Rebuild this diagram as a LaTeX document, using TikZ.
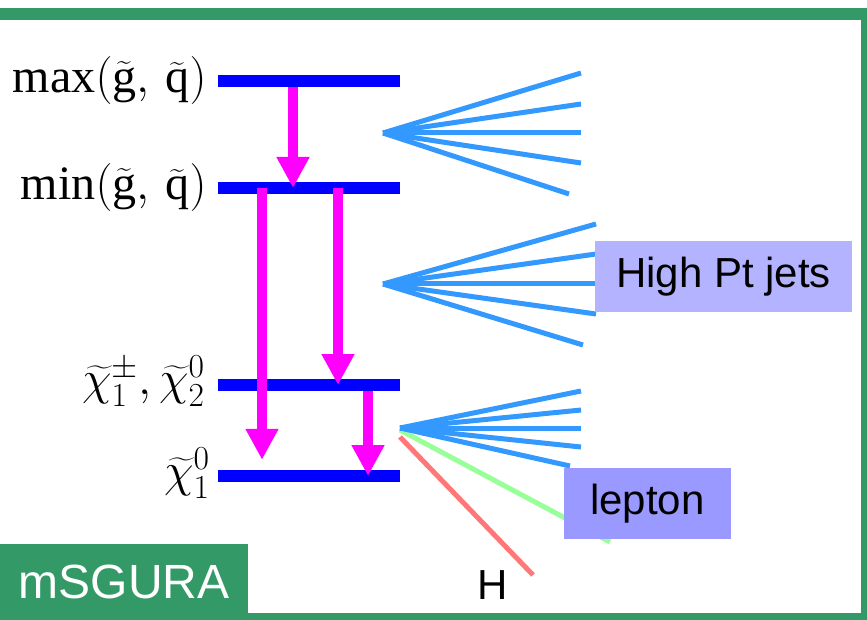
\RequirePackage{fix-cm}
\documentclass[tikz,border=0pt]{standalone}
\usepackage{amsmath}
\usepackage{fontspec}
\setmainfont{Liberation Serif}
\setsansfont{Liberation Sans}
\usepackage{xcolor}
\usepackage{tikz}
\usetikzlibrary{arrows.meta, positioning}
\definecolor{frameGreen}{HTML}{339966}
\definecolor{levelBlue}{HTML}{0000FF}
\definecolor{decayPink}{HTML}{FF00FF}
\definecolor{jetBlue}{HTML}{3399FF}
\definecolor{jetBox}{HTML}{B3B3FF}
\definecolor{lepBox}{HTML}{9999FF}
\definecolor{lepGreen}{HTML}{99FF99}
\definecolor{higgsRed}{HTML}{FF7777}

\begin{document}
\begin{tikzpicture}[
  x=1pt, y=-1pt,
  level/.style={fill=levelBlue, inner sep=0pt, minimum width=182pt, minimum height=12pt},
  lbl/.style={inner sep=0pt, font=\fontsize{48}{52}\selectfont},
  decay/.style={draw=decayPink, line width=10pt, -{Triangle[width=31pt,length=31pt]}},
  jet/.style={draw=jetBlue, line width=5pt},
  tag/.style={inner sep=0pt, minimum height=71pt, font=\sffamily\fontsize{42}{48}\selectfont}
]
\useasboundingbox (0,0) rectangle (867,620);
% frame
\fill[frameGreen] (0,8) rectangle (867,20);
\fill[frameGreen] (861,8) rectangle (867,620);
\fill[frameGreen] (0,613) rectangle (867,620);

% mass levels
\node[level] (lmax) at (309,81) {};
\node[level] (lmin) at (309,188) {};
\node[level] (lchi2) at (309,385) {};
\node[level] (lchi1) at (309,476) {};

\node[lbl, left=11pt of lmax] (tmax) {$\mathrm{max}(\widetilde{\mathrm{g}},\,\widetilde{\mathrm{q}})$};
\node[lbl, left=11pt of lmin] (tmin) {$\mathrm{min}(\widetilde{\mathrm{g}},\,\widetilde{\mathrm{q}})$};
\node[lbl, left=13pt of lchi2, yshift=4pt] (tchi2) {$\widetilde{\chi}_1^{\pm},\widetilde{\chi}_2^{0}$};
\node[lbl, left=8pt of lchi1, yshift=3pt] (tchi1) {$\widetilde{\chi}_1^{0}$};

% decays
\draw[decay] ([xshift=-16pt]lmax.south) -- ([xshift=-16pt]lmin.center);
\draw[decay] ([xshift=-47pt]lmin.center) -- ([xshift=-47pt, yshift=10pt]lchi1.north);
\draw[decay] ([xshift=29pt]lmin.center) -- ([xshift=29pt]lchi2.center);
\draw[decay] ([xshift=59pt]lchi2.south) -- ([xshift=59pt]lchi1.center);

% jets
\coordinate (j1) at (383,133);
\coordinate (j2) at (383,284);
\coordinate (j3) at (400,428);
\foreach \dx/\dy in {198/-60, 198/-29, 198/0, 198/30, 186/61}
  \draw[jet] (j1) -- ++(\dx,\dy);
\foreach \dx/\dy in {213/-60, 213/-30, 213/0, 213/30, 200/61}
  \draw[jet] (j2) -- ++(\dx,\dy);
\draw[draw=lepGreen, line width=5pt] ([yshift=-2pt]j3) -- ++(210,112);
\draw[draw=higgsRed, line width=5pt] ([yshift=-9pt]j3) -- ++(133,138);
\foreach \dx/\dy in {181/-37, 181/-18, 181/0, 181/19, 170/38}
  \draw[jet] (j3) -- ++(\dx,\dy);

\node[tag, fill=jetBox, minimum width=257pt] (jets) at (723.5,276.5) {High Pt jets};
\node[tag, fill=lepBox, minimum width=167pt] (lep) at (647.5,503.5) {lepton\hspace{12pt}};
\node[inner sep=0pt, font=\sffamily\fontsize{42}{48}\selectfont] (higgs) at (493,585) {H};
\node[fill=frameGreen, text=white, inner sep=0pt, minimum width=248pt, minimum height=76pt,
  font=\sffamily\fontsize{48}{54}\selectfont] (model) at (124,582) {mSGURA};
\end{tikzpicture}
\end{document}
